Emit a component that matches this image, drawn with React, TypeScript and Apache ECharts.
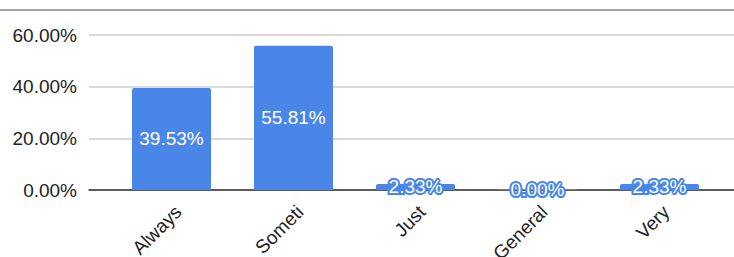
import React, { useEffect, useRef } from "react";
import * as echarts from "echarts";

const categories = ["Always", "Someti", "Just", "General", "Very"];
const values = [39.53, 55.81, 2.33, 0, 2.33];
const yTicks = [0, 20, 40, 60];

export default function App() {
  const ref = useRef<HTMLDivElement>(null);
  useEffect(() => {
    if (!ref.current) return;
    const chart = echarts.init(ref.current, null, { renderer: "svg" });
    const font = "Liberation Sans, Arial, sans-serif";
    chart.setOption({
      animation: false,
      textStyle: { fontFamily: font },
      graphic: [
        { type: "rect", left: 0, top: 9, shape: { width: 734, height: 2 }, style: { fill: "#a0a0a0" } },
      ],
      grid: [
        { left: 89, right: 0, top: 35, bottom: 67, outerBoundsMode: "none", containLabel: false },
        { left: 110.5, right: 13.5, top: 35, bottom: 67, outerBoundsMode: "none", containLabel: false },
      ],
      xAxis: [
        {
          gridIndex: 0,
          type: "category",
          data: [""],
          axisLine: { show: true, lineStyle: { color: "#333", width: 1.5 } },
          axisTick: { show: false },
          axisLabel: { show: false },
        },
        {
          gridIndex: 1,
          type: "category",
          data: categories,
          axisLine: { show: false },
          axisTick: { show: false },
          axisLabel: {
            rotate: 45,
            fontSize: 19,
            color: "#222",
            margin: 12,
            verticalAlign: "top",
            fontFamily: font,
          },
        },
      ],
      yAxis: [
        {
          gridIndex: 0,
          type: "value",
          min: yTicks[0],
          max: yTicks[yTicks.length - 1],
          interval: 20,
          axisLine: { show: false },
          axisTick: { show: false },
          axisLabel: {
            fontSize: 19,
            color: "#222",
            margin: 12,
            fontFamily: font,
            formatter: (v: number) => v.toFixed(2) + "%",
          },
          splitLine: { lineStyle: { color: "#cccccc", width: 1.5 } },
        },
        {
          gridIndex: 1,
          type: "value",
          min: 0,
          max: 60,
          interval: 20,
          show: false,
          splitLine: { show: false },
        },
      ],
      series: [
        {
          type: "bar",
          xAxisIndex: 1,
          yAxisIndex: 1,
          data: values,
          barWidth: 79,
          barMinHeight: 1,
          itemStyle: { color: "#4a86e8", borderRadius: [2, 2, 0, 0] },
          label: {
            show: true,
            position: "inside",
            fontSize: 19,
            color: "#fff",
            fontFamily: font,
            textBorderColor: "#4a86e8",
            textBorderWidth: 4,
            formatter: (p: any) => p.value.toFixed(2) + "%",
          },
        },
      ],
    });
    return () => chart.dispose();
  }, []);
  return <div ref={ref} style={{ width: 734, height: 257, position: "absolute", left: 0, top: 0 }} />;
}
